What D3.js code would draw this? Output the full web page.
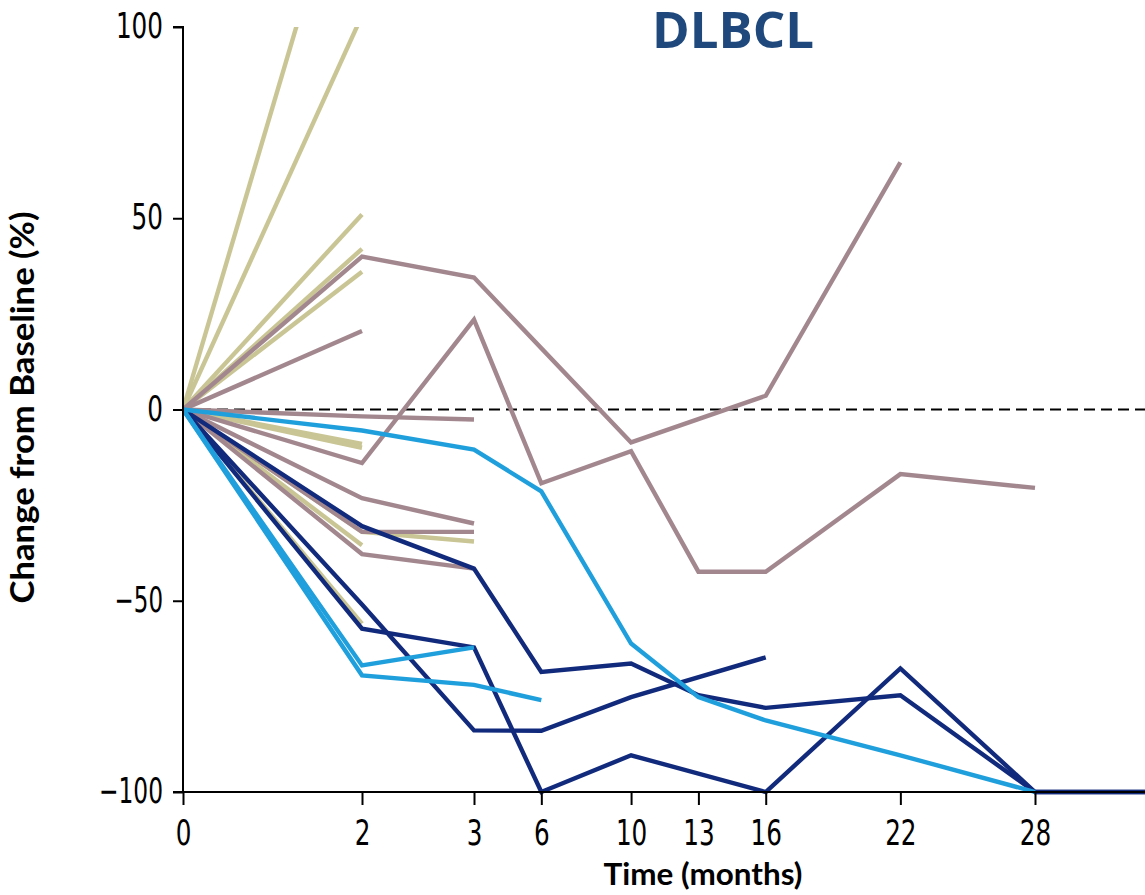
<!DOCTYPE html>
<html>
<head>
<meta charset="utf-8">
<script src="https://cdn.jsdelivr.net/npm/d3@7"></script>
<style>
  html, body { margin: 0; padding: 0; background: #fff; }
  svg { display: block; }
</style>
</head>
<body>
<svg id="chart" width="1145" height="895"></svg>
<script>
// ---- Data ----
const timePoints = [0, 2, 3, 6, 10, 13, 16, 22, 28, 33];
const xTickValues = [0, 2, 3, 6, 10, 13, 16, 22, 28];
const yTickValues = [-100, -50, 0, 50, 100];
const yTickLabels = ["\u2212100", "\u221250", "0", "50", "100"];

// values aligned with timePoints (null = no observation)
const tanSeries = [
  [0, 158],
  [0, 103],
  [0, 51],
  [0, 42],
  [0, 36],
  [0, -9],
  [0, -10],
  [0, -32, -34.5],
  [0, -35.5],
  [0, -56]
];
const mauveSeries = [
  [0, 40, 34.5, null, -8.6, null, 3.6, 64.6],
  [0, -14, 23.5, -19.3, -10.9, -42.4, -42.4, -16.9, -20.5],
  [0, 20.5],
  [0, -1.8, -2.6],
  [0, -23.2, -29.8],
  [0, -32, -32],
  [0, -37.8, -41.6]
];
const navySeries = [
  [0, -30.5, -41.6, -68.6, -66.4, -74.7, -78, -74.7, -100, -100],
  [0, -57.3, -62.2, -100, -90.4, null, -100, -67.7, -100, -100],
  [0, -51, -83.9, -84, -75.2, null, -64.8]
];
const lightBlueSeries = [
  [0, -5.5, -10.5, -21.4, -61.2, -75.2, -81.3, -90.4, -100],
  [0, -66.9, -62.2],
  [0, -69.5, -72, -76]
];

const groups = [
  { series: tanSeries, color: "#c9c594" },
  { series: mauveSeries, color: "#a3878f" },
  { series: navySeries, color: "#122a7c" },
  { series: lightBlueSeries, color: "#209fdd" }
];

// ---- Layout ----
const W = 1145, H = 895;
const mLeft = 183, mTop = 27, mBottom = 792;

const svg = d3.select("#chart");

// broken (piecewise) time axis: expanded early months, linear from month 3
const x = d3.scaleLinear()
  .domain([0, 2, 3, 28])
  .range([mLeft, 362, 474, 1035]);
const y = d3.scaleLinear().domain([-100, 100]).range([mBottom, mTop]);

svg.append("defs").append("clipPath").attr("id", "plotclip")
  .append("rect").attr("x", mLeft).attr("y", mTop).attr("width", W - mLeft).attr("height", mBottom - mTop + 3);

// zero dashed line
svg.append("line")
  .attr("x1", x(0)).attr("x2", W)
  .attr("y1", y(0)).attr("y2", y(0))
  .attr("stroke", "#000").attr("stroke-width", 2.2)
  .attr("stroke-dasharray", "11,6");

// lines
const line = d3.line()
  .x(d => x(d[0]))
  .y(d => y(d[1]));

const plot = svg.append("g").attr("clip-path", "url(#plotclip)");
groups.forEach(g => {
  g.series.forEach(vals => {
    const pts = vals.map((v, i) => [timePoints[i], v]).filter(p => p[1] !== null);
    plot.append("path")
      .attr("d", line(pts))
      .attr("fill", "none")
      .attr("stroke", g.color)
      .attr("stroke-width", 4.4)
      .attr("stroke-linejoin", "miter")
      .attr("stroke-linecap", "butt");
  });
});

// axes
const tickFont = "'Liberation Sans Narrow', 'DejaVu Sans Condensed', sans-serif";
// condensed label widths (digit ~15.7px, minus ~17px)
const labelLen = s => Array.from(s).reduce((a, c) => a + (c === "\u2212" ? 17 : 15.7), 0);

const yAxis = svg.append("g").attr("transform", `translate(${mLeft},0)`)
  .call(d3.axisLeft(y).tickValues(yTickValues).tickSize(10).tickPadding(10)
    .tickFormat((d, i) => yTickLabels[i]));
yAxis.select(".domain").attr("stroke", "#000").attr("stroke-width", 2).attr("d", `M-10,${mTop}H0V${mBottom}H-10`);
yAxis.selectAll(".tick line").attr("stroke", "#000").attr("stroke-width", 2);
yAxis.selectAll(".tick text")
  .attr("font-family", tickFont).attr("font-size", 35).attr("fill", "#000")
  .attr("dy", "0.3em")
  .attr("textLength", function () { return labelLen(this.textContent); })
  .attr("lengthAdjust", "spacingAndGlyphs");

const xAxis = svg.append("g").attr("transform", `translate(0,${mBottom})`)
  .call(d3.axisBottom(x).tickValues(xTickValues).tickSize(13).tickPadding(15)
    .tickFormat(d3.format("d")));
xAxis.select(".domain").attr("stroke", "#000").attr("stroke-width", 2).attr("d", `M${mLeft},0H${W}`);
xAxis.selectAll(".tick line").attr("stroke", "#000").attr("stroke-width", 2);
xAxis.selectAll(".tick text")
  .attr("font-family", tickFont).attr("font-size", 35).attr("fill", "#000")
  .attr("textLength", function () { return labelLen(this.textContent); })
  .attr("lengthAdjust", "spacingAndGlyphs");

// axis titles
svg.append("text")
  .attr("x", 703).attr("y", 885)
  .attr("text-anchor", "middle")
  .attr("font-family", "Lato, 'Open Sans', sans-serif")
  .attr("font-weight", "bold")
  .attr("font-size", 31)
  .attr("textLength", 199).attr("lengthAdjust", "spacingAndGlyphs")
  .text("Time (months)");

svg.append("text")
  .attr("transform", `translate(34,${(mTop + mBottom) / 2 - 2}) rotate(-90)`)
  .attr("text-anchor", "middle")
  .attr("font-family", "Lato, 'Open Sans', sans-serif")
  .attr("font-weight", "bold")
  .attr("font-size", 33)
  .attr("textLength", 392).attr("lengthAdjust", "spacingAndGlyphs")
  .text("Change from Baseline (%)");

// title
svg.append("text")
  .attr("x", 652).attr("y", 48)
  .attr("font-family", "'Open Sans', sans-serif")
  .attr("font-weight", "bold")
  .attr("font-size", 51)
  .attr("fill", "#1f497d")
  .text("DLBCL");
</script>
</body>
</html>
